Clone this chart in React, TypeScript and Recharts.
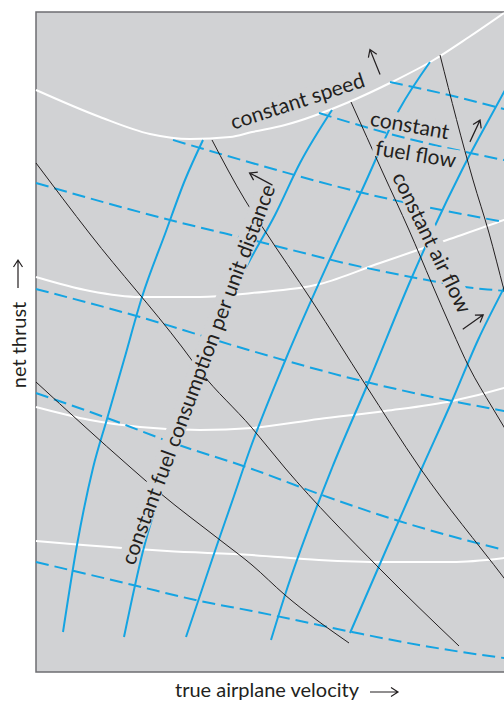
import React from 'react'
import { LineChart, Line, XAxis, YAxis, CartesianGrid, ReferenceArea, ReferenceDot } from 'recharts'

// x = true airplane velocity, y = net thrust (arbitrary units, schematic chart)
type Pt = [number, number]

// constant speed (white)
const speed1: Pt[] = [[0, 582], [64, 555], [114, 538], [154, 533], [194, 535], [216, 540], [249, 547], [313, 570], [356, 590], [396, 611], [433, 635], [468, 659]]
const speed2: Pt[] = [[0, 395], [54, 381], [104, 375], [164, 375], [216, 379], [284, 388], [344, 409], [411, 432], [468, 452], [484, 458]]
const speed3: Pt[] = [[0, 265], [54, 252], [104, 245], [164, 242], [216, 244], [283, 253], [349, 261], [416, 271], [468, 284], [484, 289]]
const speed4: Pt[] = [[0, 131], [47, 127], [131, 121], [216, 117], [283, 112], [349, 110], [416, 110], [468, 114], [484, 116]]

// constant fuel flow (blue dashed)
const fuelFlow1: Pt[] = [[354, 590], [417, 576], [468, 563], [484, 559]]
const fuelFlow2: Pt[] = [[283, 559], [347, 540], [434, 519], [468, 512], [484, 509]]
const fuelFlow3: Pt[] = [[137, 532], [216, 509], [323, 480], [468, 450], [484, 447]]
const fuelFlow4: Pt[] = [[0, 489], [134, 452], [216, 432], [326, 405], [396, 391], [429, 385], [468, 381], [484, 379]]
const fuelFlow5: Pt[] = [[0, 383], [104, 355], [216, 321], [326, 291], [416, 271], [468, 261], [484, 258]]
const fuelFlow6: Pt[] = [[0, 279], [71, 254], [137, 229], [216, 203], [283, 178], [363, 151], [468, 122], [484, 118]]
const fuelFlow7: Pt[] = [[0, 110], [97, 87], [164, 71], [216, 61], [316, 40], [383, 27], [468, 14], [484, 12]]

// constant fuel consumption per unit distance (blue solid)
const perDist1: Pt[] = [[27, 40], [41, 127], [57, 204], [71, 253], [88, 312], [106, 375], [129, 438], [149, 492], [167, 532]]
const perDist2: Pt[] = [[88, 35], [107, 121], [124, 179], [142, 232], [164, 301], [186, 359], [214, 412], [239, 457], [264, 509], [296, 562]]
const perDist3: Pt[] = [[150, 35], [181, 127], [198, 176], [213, 220], [249, 311], [293, 411], [326, 482], [363, 562], [394, 610]]
const perDist4: Pt[] = [[235, 32], [249, 77], [296, 204], [333, 291], [376, 395], [397, 442], [426, 502], [468, 580], [484, 610]]
const perDist5: Pt[] = [[314, 39], [350, 122], [386, 204], [416, 271], [442, 332], [468, 384], [484, 414]]

// constant air flow (black)
const airFlow1: Pt[] = [[0, 509], [54, 438], [146, 325], [164, 301], [216, 244], [249, 204], [343, 104], [423, 26]]
const airFlow2: Pt[] = [[0, 290], [94, 205], [124, 179], [184, 132], [216, 107], [249, 77], [313, 29]]
const airFlow3: Pt[] = [[176, 532], [209, 472], [227, 444], [276, 371], [329, 288], [384, 204], [468, 94], [484, 73]]
const airFlow4: Pt[] = [[315, 570], [347, 499], [373, 442], [396, 388], [416, 342], [433, 305], [456, 265], [468, 245], [484, 218]]
const airFlow5: Pt[] = [[404, 617], [437, 492], [453, 439], [468, 382], [484, 322]]

const labels = [
  { text: 'constant speed', x: 261, y: 572, angle: -18 },
  { text: 'constant', x: 374, y: 548, angle: 10 },
  { text: 'fuel flow', x: 380, y: 519, angle: 9 },
  { text: 'constant air flow', x: 397, y: 430, angle: 64 },
  { text: 'constant fuel consumption per unit distance', x: 161, y: 298, angle: -69.5 },
]

// direction arrows: centre, angle, length
const arrows = [
  { x: 339, y: 610, angle: -112, len: 27, outside: false },
  { x: 439, y: 541, angle: -65, len: 24, outside: false },
  { x: 437, y: 350, angle: -35, len: 25, outside: false },
  { x: 225, y: 493, angle: -152, len: 26, outside: false },
  { x: -18, y: 398, angle: -90, len: 28, outside: true },
  { x: 348, y: -20, angle: 0, len: 28, outside: true },
]

const axisTitles = [
  { text: 'net thrust', x: -18, y: 327, angle: -90 },
  { text: 'true airplane velocity', x: 231, y: -17, angle: 0 },
]

const BG = '#d1d2d4'
const BLUE = '#14a4e2'
const INK = '#231f20'
const FONT = 'Lato, "DejaVu Sans", sans-serif'

const rows = (pts: Pt[]) => pts.map(([x, y]) => ({ x, y }))

let ctx: CanvasRenderingContext2D | null = null
const measure = (text: string, size: number) => {
  if (!ctx && typeof document !== 'undefined') ctx = document.createElement('canvas').getContext('2d')
  if (!ctx) return text.length * size * 0.45
  ctx.font = `${size}px ${FONT}`
  return ctx.measureText(text).width
}

const textShape = (text: string, angle: number, size: number, knockout: boolean) => (props: any) => {
  const { cx, cy } = props
  const w = knockout ? measure(text, size) + 6 : 0
  const h = size * 0.9
  return (
    <g transform={`rotate(${angle} ${cx} ${cy})`}>
      {knockout && <rect x={cx - w / 2} y={cy - h / 2} width={w} height={h} fill={BG} />}
      <text x={cx} y={cy} textAnchor="middle" dominantBaseline="central" fontFamily={FONT} fontSize={size} fill={INK}>
        {text}
      </text>
    </g>
  )
}

const arrowShape = (angle: number, len: number) => (props: any) => {
  const { cx, cy } = props
  const x0 = cx - len / 2
  const x1 = cx + len / 2
  return (
    <path
      transform={`rotate(${angle} ${cx} ${cy})`}
      d={`M${x0},${cy}L${x1},${cy}M${x1 - 7},${cy - 4.5}L${x1},${cy}L${x1 - 7},${cy + 4.5}`}
      fill="none"
      stroke={INK}
      strokeWidth={1.2}
    />
  )
}

export default function App() {
  const series = [
    ...[speed1, speed2, speed3, speed4].map((d) => ({ d, stroke: '#ffffff', w: 2, dash: undefined })),
    ...[fuelFlow1, fuelFlow2, fuelFlow3, fuelFlow4, fuelFlow5, fuelFlow6, fuelFlow7].map((d) => ({ d, stroke: BLUE, w: 2, dash: '13 6' })),
    ...[perDist1, perDist2, perDist3, perDist4, perDist5].map((d) => ({ d, stroke: BLUE, w: 2, dash: undefined })),
    ...[airFlow1, airFlow2, airFlow3, airFlow4, airFlow5].map((d) => ({ d, stroke: INK, w: 1, dash: undefined })),
  ]

  return (
    <div style={{ position: 'absolute', left: 0, top: 0, width: 504, height: 702, overflow: 'hidden', background: '#fff' }}>
      <LineChart width={520} height={702} margin={{ top: 12, right: 0, bottom: 30, left: 36 }}>
        <CartesianGrid fill={BG} fillOpacity={1} stroke="none" horizontal={false} vertical={false} />
        <XAxis type="number" dataKey="x" domain={[0, 484]} hide />
        <YAxis type="number" dataKey="y" domain={[0, 660]} hide />
        {series.map((s, i) => (
          <Line
            key={i}
            data={rows(s.d)}
            dataKey="y"
            type="monotone"
            stroke={s.stroke}
            strokeWidth={s.w}
            strokeDasharray={s.dash}
            dot={false}
            activeDot={false}
            isAnimationActive={false}
          />
        ))}
        <ReferenceArea x1={0} x2={484} y1={0} y2={660} fill="none" fillOpacity={0} stroke="#6d6e71" strokeWidth={1.5} />
        {labels.map((l) => (
          <ReferenceDot key={l.text} x={l.x} y={l.y} r={0} shape={textShape(l.text, l.angle, 21, true)} />
        ))}
        {arrows.map((a, i) => (
          <ReferenceDot key={'a' + i} x={a.x} y={a.y} r={0} ifOverflow={a.outside ? 'visible' : 'discard'} shape={arrowShape(a.angle, a.len)} />
        ))}
        {axisTitles.map((t) => (
          <ReferenceDot key={t.text} x={t.x} y={t.y} r={0} ifOverflow="visible" shape={textShape(t.text, t.angle, 20, false)} />
        ))}
      </LineChart>
    </div>
  )
}
